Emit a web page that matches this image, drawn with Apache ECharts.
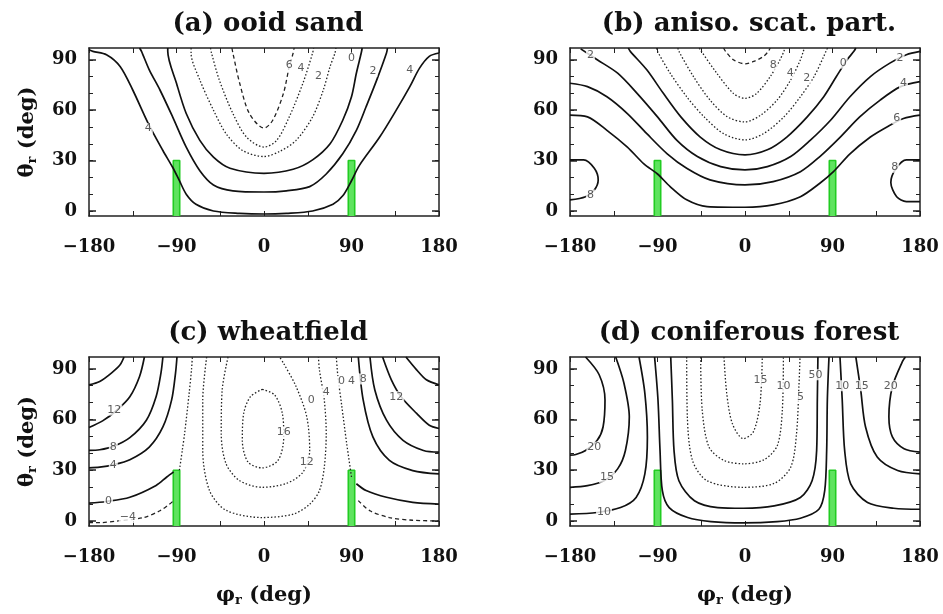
<!DOCTYPE html>
<html>
<head>
<meta charset="utf-8">
<script src="https://cdn.jsdelivr.net/npm/echarts@6/dist/echarts.min.js"></script>
<style>
  html, body { margin: 0; padding: 0; background: #fff; }
  #chart { width: 943px; height: 614px; }
</style>
</head>
<body>
<div id="chart"></div>
<script>
// axes
var xTicks = [-180, -90, 0, 90, 180]
var yTicks = [0, 30, 60, 90]
var yMinor = [0, 10, 20, 30, 40, 50, 60, 70, 80, 90]
var yMin = -3, yMax = 97

// green boxes (phi centre, top theta)
var barPhi = [-90, 90]
var barTop = 30
var barHalf = 3.3

// (a) ooid sand
var a_c4 = [[-180,96],[-176,95],[-162,93],[-148,86],[-135,72],[-119,52],[-104,36],[-94,26],[-87,18],[-80,10],[-70,4],[-52,0],[-25,-1.4],[0,-1.8],[23,-1.4],[50,0],[71,4],[81,9],[90,18],[98,27],[119,44],[136,60],[150,74],[160,85],[170,92],[180,94]]
var a_c2 = [[-128,97],[-126,95],[-118,84],[-107,72],[-94,56],[-80,38],[-66,24],[-52,15.5],[-32,12],[0,11.3],[23,12],[47,14.5],[64,22],[81,34],[95,48],[105,62],[116,78],[126,94],[127,97]]
var a_c0 = [[-99,97],[-99,95],[-90,76],[-80,58],[-66,42],[-52,32],[-35,25.4],[0,22.4],[30,24.8],[50,30.4],[68,40],[81,54],[90,68],[95,82],[100,94],[101,97]]
var a_m2 = [[-75,97],[-75,94],[-66,78],[-52,60],[-39,46],[-22,36],[0,32.4],[16,35.4],[33,42],[50,56],[61,72],[68,86],[73,94],[74,97]]
var a_m4 = [[-55,97],[-54,94],[-46,78],[-32,58],[-18,44],[0,38],[13,42],[26,56],[40,76],[50,94],[51,97]]
var a_m6 = [[-33,97],[-32,94],[-25,76],[-15,58],[0,49.3],[9,54],[20,70],[26,86],[30,94],[31,97]]
var a_labels = [[-119,49,'4'],[26,87,'6'],[38,85,'4'],[56,80,'2'],[90,91,'0'],[112,83,'2'],[150,84,'4']]

// (b) aniso. scat. part.
var b_c6 = [[-180,57],[-162,56],[-142,48],[-121,38],[-104,28],[-90,22],[-77,14.5],[-60,6.6],[-39,2.6],[0,2.2],[29,3.6],[57,8.5],[77,16.5],[91,23.4],[108,34],[129,44],[146,50],[163,55],[180,57]]
var b_c4 = [[-180,76],[-162,74],[-142,68],[-121,58],[-101,46],[-80,34],[-60,25.4],[-36,18.5],[0,15.5],[29,17.5],[57,23.4],[77,32.4],[98,44],[118,56],[139,66],[160,74],[180,77]]
var b_c2 = [[-169,96.5],[-152,90],[-131,82],[-111,70],[-90,56],[-70,42],[-49,32.4],[-25,26.4],[0,24.4],[23,26.4],[47,32.4],[67,42],[88,54],[108,68],[129,80],[149,88],[166,93],[180,95]]
var b_c0 = [[-120,97],[-118,95],[-101,84],[-84,70],[-66,56],[-46,44],[-25,36.4],[0,33.4],[23,36.4],[43,44],[64,56],[81,68],[94,80],[105,90],[112,95],[114,97]]
var b_m2 = [[-91,97],[-90,95],[-77,82],[-60,68],[-42,56],[-22,46],[0,42.3],[19,46],[40,56],[57,68],[71,80],[81,92],[84,96],[85,97]]
var b_m4 = [[-69,97],[-68,95],[-53,80],[-36,66],[-18,56],[0,53],[16,57],[33,66],[47,78],[57,90],[60,95],[61,97]]
var b_m6 = [[-47,97],[-46,96],[-29,82],[-12,70],[0,67],[12,70],[26,80],[36,90],[40,95],[41,97]]
var b_m8 = [[-22,97],[-20,95],[-12,90],[0,87.6],[9,89],[19,92],[24,95],[26,97]]
var b_c8L = [[-180,30.4],[-166,30.4],[-155,25.4],[-151,18.5],[-155,12.5],[-164,8.5],[-180,6.6]]
var b_c8R = [[180,30.4],[166,30.4],[155,25],[150,17],[156,8.5],[166,5.6],[180,5.6]]
var b_labels = [[-159,93,'2'],[29,87,'8'],[46.5,82,'4'],[63.6,79,'2'],[101,88,'0'],[159.5,91,'2'],[163,76,'4'],[156,55,'6'],[154,26,'8'],[-159,9.5,'8']]

// (c) wheatfield
var c_16L = [[-180,80.5],[-169,82.5],[-157,87.5],[-148,92.4],[-144,97]]
var c_12L = [[-180,55.3],[-166,59.2],[-152,65.2],[-138,73.5],[-128,85.5],[-123,97]]
var c_8L = [[-180,41.7],[-169,42.1],[-155,44.1],[-138,49.3],[-121,59.6],[-111,73.5],[-106,87.5],[-104,97]]
var c_4L = [[-180,31.4],[-169,31.8],[-155,33.2],[-138,36.2],[-118,43.7],[-104,55.6],[-95,71.6],[-91,87.5],[-89.5,97]]
var c_0L = [[-180,10.5],[-162,11.5],[-138,14],[-111,21],[-100,26],[-93,29]]
var c_0Lup = [[-87,30],[-84,42],[-81.6,52],[-77,75.5],[-74.5,90],[-73.7,97]]
var c_m4L = [[-180,-1],[-169,-1],[-150,0],[-124,2],[-107,6],[-97,10],[-93,12]]
var c_16R = [[146,97],[157,89.4],[167,83.5],[180,80.5]]
var c_12R = [[122,97],[131,83.5],[141,73.5],[157,63.6],[170,56.6],[180,54.7]]
var c_8R = [[109,97],[114,77.5],[126,59.6],[143,47.7],[164,41.7],[180,40.7]]
var c_4R = [[97,97],[102,71.6],[112,49.7],[129,35.8],[153,29.8],[180,27.8]]
var c_0R = [[95,22],[105,18],[126,14],[153,11],[180,10]]
var c_0Rup = [[90,26],[85,46],[80,68],[76,85.5],[74.4,97]]
var c_m4R = [[97,12],[109,6],[129,2],[153,0.4],[180,0]]
var c_16 = [[-1.7,77.9],[11,74.5],[18.9,63.6],[20.3,49.7],[14.4,35.8],[-1.7,31.4],[-16.4,34.8],[-22.3,47.7],[-20.9,63.6],[-14,73.5],[-1.7,77.9]]
var c_12U = [[-37,97],[-43,77.5],[-44,51.7],[-39,33.8],[-25,23.8],[-1.7,19.9],[23,22.2],[40,28.8],[47,41.7],[44,61.6],[33,79.5],[20,93.4],[16,97]]
var c_8U = [[-59,97],[-63,71.6],[-63,41.7],[-56,17.9],[-39,6.3],[-1.7,2],[30,4],[47,9.9],[57,17.9],[62,31.8],[64,51.7],[62,71.6],[57,89.4],[56,97]]
var c_labels = [[-154,65.6,'12'],[-155,43.7,'8'],[-155,32.8,'4'],[-160,11.9,'0'],[-140,2,'−4'],[20.3,52.7,'16'],[44,34.8,'12'],[48.7,71.6,'0'],[64,76.5,'4'],[79.6,82.5,'0'],[90,83,'4'],[102,84,'8'],[136,73.5,'12']]

// (d) coniferous forest
var d_20L = [[-164,97],[-150,86.5],[-144,71.6],[-146,55.6],[-152,47.7],[-164,41.7],[-174,39.3],[-180,38.9]]
var d_15L = [[-133,97],[-124.5,81.5],[-119,61.6],[-123,41.7],[-131,30.8],[-145,23.8],[-162,20.9],[-180,19.9]]
var d_10L = [[-109,97],[-103,75.5],[-100.4,49.7],[-103,27.8],[-112,13.9],[-128,7.9],[-152,5],[-180,4]]
var d_5 = [[-93,97],[-89.5,71.6],[-87.4,41.7],[-85,17.9],[-78,7.9],[-59,2],[-35,-0.4],[-1.7,-1.2],[33,-0.4],[57,1.6],[76,6.9],[82,17.9],[84,41.7],[84.7,71.6],[86.4,97]]
var d_0 = [[-76.4,97],[-74.7,71.6],[-73,41.7],[-68,23.8],[-52,11.9],[-28,7.9],[-1.7,7.5],[30,8.9],[57,13.9],[69,23.8],[73.7,41.7],[74.4,71.6],[75,97]]
var d_m5 = [[-60,97],[-59.3,61.6],[-54,35.8],[-39,23.8],[-1.7,19.9],[30,22.2],[47,31.8],[53,51.7],[55.6,81.5],[56.6,97]]
var d_m10 = [[-45.6,97],[-44,65.6],[-37,43.7],[-21.6,35.8],[-1.7,33.8],[19.6,36.2],[33.3,44.7],[38.4,65.6],[39.5,97]]
var d_m15 = [[-21.6,97],[-18.8,75.5],[-13,57.6],[-1.7,48.7],[8.6,52.7],[15.5,69.6],[17.8,97]]
var d_10R = [[97.7,97],[100,71.6],[102.5,41.7],[108.7,21.9],[126,10.9],[153,7.5],[180,6.9]]
var d_15R = [[114,97],[119,77.5],[124,55.6],[136,37.8],[157,29.8],[180,27.8]]
var d_20R = [[165,97],[162,94.4],[151.6,79.5],[148,61.6],[151.6,49.7],[163.6,42.7],[180,40.7]]
var d_labels = [[-155,43.7,'20'],[-142,25.8,'15'],[-145,5,'10'],[16,83.5,'15'],[39.5,79.5,'10'],[57,73.5,'5'],[69,86.5,'5'],[76,86.5,'0'],[100,80,'10'],[120,80,'15'],[150,80,'20']]

var panels = [
  { title: '(a) ooid sand', labels: a_labels,
    lines: [[a_c4,'solid'],[a_c2,'solid'],[a_c0,'solid'],[a_m2,'dotted'],[a_m4,'dotted'],[a_m6,'dashed']] },
  { title: '(b) aniso. scat. part.', labels: b_labels,
    lines: [[b_c6,'solid'],[b_c4,'solid'],[b_c2,'solid'],[b_c0,'solid'],[b_m2,'dotted'],[b_m4,'dotted'],[b_m6,'dotted'],[b_m8,'dashed'],[b_c8L,'solid'],[b_c8R,'solid']] },
  { title: '(c) wheatfield', labels: c_labels,
    lines: [[c_16L,'solid'],[c_12L,'solid'],[c_8L,'solid'],[c_4L,'solid'],[c_0L,'solid'],[c_0Lup,'dotted'],[c_m4L,'dashed'],
            [c_16R,'solid'],[c_12R,'solid'],[c_8R,'solid'],[c_4R,'solid'],[c_0R,'solid'],[c_0Rup,'dotted'],[c_m4R,'dashed'],
            [c_16,'dotted'],[c_12U,'dotted'],[c_8U,'dotted']] },
  { title: '(d) coniferous forest', labels: d_labels,
    lines: [[d_20L,'solid'],[d_15L,'solid'],[d_10L,'solid'],[d_5,'solid'],[d_0,'solid'],[d_m5,'dotted'],[d_m10,'dotted'],[d_m15,'dotted'],
            [d_10R,'solid'],[d_15R,'solid'],[d_20R,'solid']] }
]

var boxes = [
  { left: 89, top: 48, width: 350, height: 168 },
  { left: 570, top: 48, width: 350, height: 168 },
  { left: 89, top: 357, width: 350, height: 169 },
  { left: 570, top: 357, width: 350, height: 169 }
]

var serif = 'DejaVu Serif'
var lineStyles = {
  solid: { color: '#111', width: 1.7, type: 'solid' },
  dotted: { color: '#222', width: 1.3, type: [1.5, 2] },
  dashed: { color: '#222', width: 1.3, type: [4, 3] }
}
var nameRich = {
  g: { fontFamily: serif, fontWeight: 'bold', fontSize: 21, color: '#111' },
  s: { fontFamily: serif, fontWeight: 'bold', fontSize: 13, color: '#111', padding: [10, 0, 0, 0] }
}
var boxLine = { color: '#222', width: 1.5 }

var grid = [], xAxis = [], yAxis = [], title = [], series = []

panels.forEach(function (p, i) {
  var b = boxes[i]
  grid.push(b)
  title.push({
    text: p.title, left: b.left + b.width / 2 - 1, top: b.top - 42, textAlign: 'center',
    textStyle: { fontFamily: serif, fontWeight: 'bold', fontSize: 26, color: '#111' }
  })
  var bottom = i >= 2
  xAxis.push({
    gridIndex: i, type: 'value', min: -180, max: 180, interval: 45, position: 'bottom',
    axisLine: { onZero: false, lineStyle: boxLine },
    axisTick: { inside: true, length: 5, lineStyle: { color: '#222' } },
    splitLine: { show: false },
    axisLabel: {
      margin: 22, showMinLabel: true, showMaxLabel: true,
      fontFamily: serif, fontWeight: 'bold', fontSize: 18, color: '#111',
      formatter: function (v) { return xTicks.indexOf(v) >= 0 ? String(v).replace('-', '−') : '' }
    },
    name: bottom ? '{g|φ}{s|r}{g| (deg)}' : '',
    nameLocation: 'middle', nameGap: 58,
    nameTextStyle: { rich: nameRich }
  })
  xAxis.push({
    gridIndex: i, type: 'value', min: -180, max: 180, interval: 45, position: 'top',
    axisLine: { onZero: false, lineStyle: boxLine },
    axisTick: { inside: true, length: 5, lineStyle: { color: '#222' } },
    axisLabel: { show: false }, splitLine: { show: false }
  })
  var left = i % 2 === 0
  yAxis.push({
    gridIndex: i, type: 'value', min: yMin, max: yMax, position: 'left',
    axisLine: { onZero: false, lineStyle: boxLine },
    axisTick: { inside: true, length: 7, customValues: yTicks, lineStyle: { color: '#222', width: 1.5 } },
    axisLabel: { customValues: yTicks, margin: 12, fontFamily: serif, fontWeight: 'bold', fontSize: 18, color: '#111' },
    splitLine: { show: false },
    name: left ? '{g|θ}{s|r}{g| (deg)}' : '',
    nameLocation: 'middle', nameGap: 50, nameRotate: 90,
    nameTextStyle: { rich: nameRich }
  })
  yAxis.push({
    gridIndex: i, type: 'value', min: yMin, max: yMax, position: 'left',
    axisLine: { show: false, onZero: false },
    axisTick: { inside: true, length: 4, customValues: yMinor, lineStyle: { color: '#222' } },
    axisLabel: { show: false }, splitLine: { show: false }
  })
  yAxis.push({
    gridIndex: i, type: 'value', min: yMin, max: yMax, position: 'right',
    axisLine: { onZero: false, lineStyle: boxLine },
    axisTick: { inside: true, length: 7, customValues: yTicks, lineStyle: { color: '#222', width: 1.5 } },
    axisLabel: { show: false }, splitLine: { show: false }
  })
  yAxis.push({
    gridIndex: i, type: 'value', min: yMin, max: yMax, position: 'right',
    axisLine: { show: false, onZero: false },
    axisTick: { inside: true, length: 4, customValues: yMinor, lineStyle: { color: '#222' } },
    axisLabel: { show: false }, splitLine: { show: false }
  })

  barPhi.forEach(function (c) {
    // filled green box from the bottom of the frame up to barTop
    series.push({
      type: 'line', xAxisIndex: 2 * i, yAxisIndex: 4 * i,
      data: [[c - barHalf, barTop], [c + barHalf, barTop]],
      symbol: 'none', silent: true, z: 1,
      lineStyle: { width: 0 },
      areaStyle: { color: '#5fe35f', opacity: 1, origin: 'start' }
    })
    series.push({
      type: 'line', xAxisIndex: 2 * i, yAxisIndex: 4 * i,
      data: [[c - barHalf, yMin], [c - barHalf, barTop], [c + barHalf, barTop], [c + barHalf, yMin]],
      symbol: 'none', silent: true, z: 1,
      lineStyle: { color: '#22cc22', width: 1.6 }
    })
  })

  p.lines.forEach(function (l) {
    series.push({
      type: 'line', xAxisIndex: 2 * i, yAxisIndex: 4 * i, data: l[0],
      symbol: 'none', smooth: 0.3, silent: true, z: 3,
      lineStyle: lineStyles[l[1]]
    })
  })

  series.push({
    type: 'scatter', xAxisIndex: 2 * i, yAxisIndex: 4 * i, data: p.labels,
    symbolSize: 1, itemStyle: { color: 'rgba(0,0,0,0)' }, silent: true, z: 4,
    label: {
      show: true, position: 'inside', formatter: function (d) { return d.value[2] },
      fontFamily: 'DejaVu Sans', fontSize: 11, color: '#333',
      backgroundColor: '#fff', padding: [0, 1]
    }
  })
})

var chart = echarts.init(document.getElementById('chart'))
chart.setOption({
  animation: false,
  backgroundColor: '#fff',
  title: title,
  grid: grid,
  xAxis: xAxis,
  yAxis: yAxis,
  series: series
})
</script>
</body>
</html>
